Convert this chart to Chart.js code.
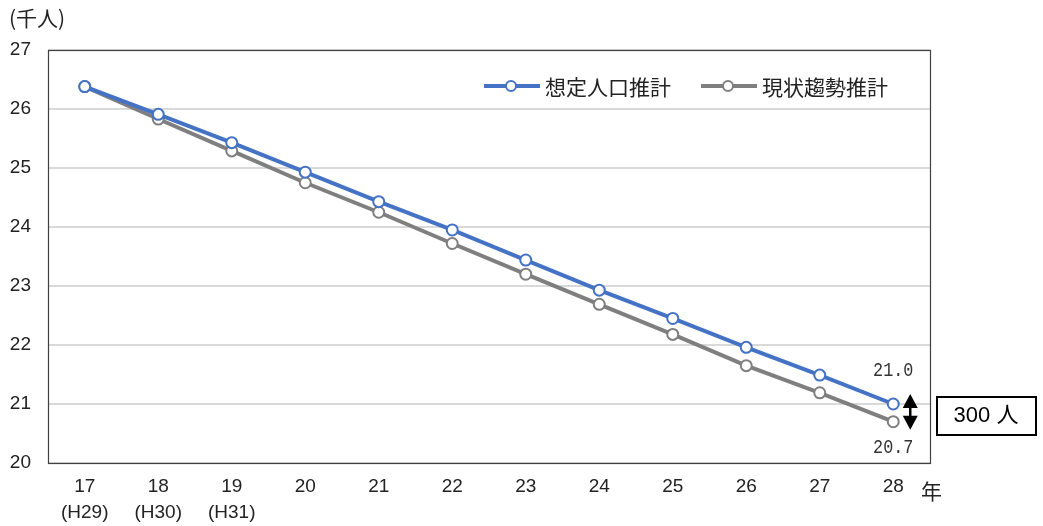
<!DOCTYPE html>
<html lang="ja">
<head>
<meta charset="utf-8">
<script src="https://cdn.jsdelivr.net/npm/chart.js@4/dist/chart.umd.min.js"></script>
<style>
  html, body { margin: 0; padding: 0; background: #ffffff; }
  #wrap { width: 1043px; height: 526px; position: relative; }
</style>
</head>
<body>
<div id="wrap"><canvas id="popChart" width="1043" height="526"></canvas></div>
<script>
// 年（西暦下2桁）と和暦の併記
const years = ['17', '18', '19', '20', '21', '22', '23', '24', '25', '26', '27', '28'];
const eraYears = ['(H29)', '(H30)', '(H31)', '', '', '', '', '', '', '', '', ''];

// 人口推計（千人）
const plannedPop = [26.38, 25.91, 25.43, 24.93, 24.43, 23.95, 23.44, 22.93, 22.45, 21.96, 21.49, 21.0];
const trendPop   = [26.38, 25.83, 25.29, 24.75, 24.25, 23.72, 23.20, 22.69, 22.18, 21.65, 21.19, 20.7];

const seriesNames = ['想定人口推計', '現状趨勢推計'];
const yMin = 20, yMax = 27, yStep = 1;
const gapLabel = '300 人';

const BLUE = '#4472C4';
const GRAY = '#7F7F7F';
const JP = "'Noto Sans CJK JP', sans-serif";
const NUM = "'Liberation Sans Narrow', 'Liberation Sans', sans-serif";
const MONO = "'Liberation Mono', 'DejaVu Sans Mono', monospace";

const labels = years.map((y, i) => eraYears[i] ? [y, eraYears[i]] : y);

// 横方向に詰めた文字列を描く
function narrowText(ctx, text, x, y, sx) {
  ctx.save();
  ctx.translate(x, y);
  ctx.scale(sx, 1);
  ctx.fillText(text, 0, 0);
  ctx.restore();
}

// 枠線・凡例・単位・末尾ラベル・差分注記
const decorations = {
  id: 'decorations',
  afterDraw(chart) {
    const ctx = chart.ctx;
    const a = chart.chartArea;
    ctx.save();

    // プロットエリアの枠
    ctx.strokeStyle = '#404040';
    ctx.lineWidth = 1.2;
    ctx.strokeRect(a.left + 0.5, a.top + 0.5, a.right - a.left, a.bottom - a.top);

    // 単位
    ctx.fillStyle = '#222';
    ctx.font = '21px ' + JP;
    ctx.textBaseline = 'middle';
    ctx.textAlign = 'left';
    ctx.fillText('(千人)', 9, 18);

    // 年
    ctx.fillText('年', 921, 491);

    // 凡例
    const legendItems = [
      { x: 484, ds: chart.data.datasets[0] },
      { x: 701, ds: chart.data.datasets[1] }
    ];
    const ly = 86;
    legendItems.forEach(it => {
      ctx.strokeStyle = it.ds.borderColor;
      ctx.lineWidth = 4;
      ctx.beginPath();
      ctx.moveTo(it.x, ly);
      ctx.lineTo(it.x + 56, ly);
      ctx.stroke();
      ctx.beginPath();
      ctx.arc(it.x + 27, ly, 5, 0, Math.PI * 2);
      ctx.fillStyle = '#fff';
      ctx.fill();
      ctx.lineWidth = 2;
      ctx.stroke();
      ctx.fillStyle = '#222';
      ctx.font = '21px ' + JP;
      ctx.textAlign = 'left';
      ctx.fillText(it.ds.label, it.x + 61, ly + 1);
    });

    // 最終年の値ラベル
    const last = years.length - 1;
    const pB = chart.getDatasetMeta(0).data[last];
    const pG = chart.getDatasetMeta(1).data[last];
    ctx.fillStyle = '#333';
    ctx.font = '20px ' + MONO;
    ctx.textAlign = 'center';
    narrowText(ctx, plannedPop[last].toFixed(1), pB.x, pB.y - 33, 0.84);
    narrowText(ctx, trendPop[last].toFixed(1), pG.x, pG.y + 26, 0.84);

    // 差分の両矢印
    const ax = pB.x + 17;
    const top = pB.y - 10, bot = pG.y + 8;
    ctx.fillStyle = '#000';
    ctx.strokeStyle = '#000';
    ctx.lineWidth = 2.5;
    ctx.beginPath();
    ctx.moveTo(ax, top + 10);
    ctx.lineTo(ax, bot - 10);
    ctx.stroke();
    ctx.beginPath();
    ctx.moveTo(ax, top);
    ctx.lineTo(ax - 7.5, top + 14);
    ctx.lineTo(ax + 7.5, top + 14);
    ctx.closePath();
    ctx.fill();
    ctx.beginPath();
    ctx.moveTo(ax, bot);
    ctx.lineTo(ax - 7.5, bot - 14);
    ctx.lineTo(ax + 7.5, bot - 14);
    ctx.closePath();
    ctx.fill();

    // 差分の注記ボックス
    ctx.lineWidth = 2;
    ctx.strokeRect(937, 397, 99, 38);
    ctx.fillStyle = '#000';
    ctx.font = "22px 'Liberation Sans', " + JP;
    ctx.textAlign = 'center';
    ctx.fillText(gapLabel, 986, 416);

    ctx.restore();
  }
};

new Chart(document.getElementById('popChart'), {
  type: 'line',
  data: {
    labels: labels,
    datasets: [
      {
        label: seriesNames[0],
        data: plannedPop,
        borderColor: BLUE,
        backgroundColor: '#ffffff',
        borderWidth: 4,
        pointRadius: 5.5,
        pointBorderWidth: 2,
        pointBackgroundColor: '#ffffff',
        pointBorderColor: BLUE,
        tension: 0
      },
      {
        label: seriesNames[1],
        data: trendPop,
        borderColor: GRAY,
        backgroundColor: '#ffffff',
        borderWidth: 4,
        pointRadius: 5.5,
        pointBorderWidth: 2,
        pointBackgroundColor: '#ffffff',
        pointBorderColor: GRAY,
        tension: 0
      }
    ]
  },
  options: {
    responsive: false,
    animation: false,
    devicePixelRatio: 1,
    layout: { padding: { left: 0, top: 50, right: 113, bottom: 0 } },
    plugins: {
      legend: { display: false },
      tooltip: { enabled: false }
    },
    scales: {
      x: {
        offset: true,
        grid: { display: false, drawTicks: false },
        border: { display: false },
        ticks: {
          color: '#222',
          padding: 11,
          maxRotation: 0,
          autoSkip: false,
          font: { family: NUM, size: 19, lineHeight: 1.37 }
        },
        afterFit(scale) { scale.height = 63; }
      },
      y: {
        min: yMin,
        max: yMax,
        grid: { color: '#d9d9d9', lineWidth: 2, drawTicks: false },
        border: { display: false },
        ticks: {
          stepSize: yStep,
          color: '#222',
          padding: 17,
          font: { family: NUM, size: 19 }
        },
        afterFit(scale) { scale.width = 48; }
      }
    }
  },
  plugins: [decorations]
});
</script>
</body>
</html>
